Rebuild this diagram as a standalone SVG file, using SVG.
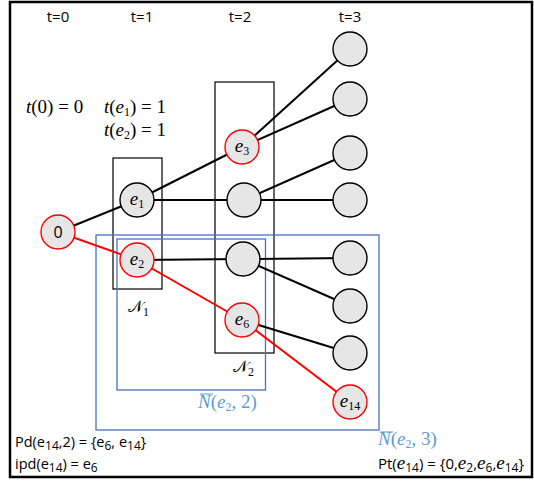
<svg xmlns="http://www.w3.org/2000/svg" width="534" height="483" viewBox="0 0 534 483">
<style>
.frame{fill:#fff;stroke:#000;stroke-width:2.5}
.n{fill:#e6e6e6;stroke:#000;stroke-width:1.4}
.r{fill:#e6e6e6;stroke:#f00;stroke-width:1.4}
.e{stroke:#000;stroke-width:2;fill:none}
.er{stroke:#f00;stroke-width:2;fill:none}
.box{fill:none;stroke:#000;stroke-width:1.2}
.bb{fill:none;stroke:#4472c4;stroke-width:1.3}
.s{font-family:"Open Sans","Liberation Sans",sans-serif;font-size:14.5px;fill:#000}
.t{font-size:15px}
.m{font-family:"Liberation Serif","DejaVu Serif",serif;font-size:19px;font-style:italic;fill:#000}
.up{font-style:normal}
.sub{font-size:12px}
.cal{font-family:"DejaVu Sans","Noto Sans",serif;font-style:normal;font-size:16px}
.lb{fill:#5b9bd5}
</style>
<rect class="frame" x="10" y="2" width="522" height="475"/>
<g id="labels-t">
<text class="s t" x="58" y="22" text-anchor="middle">t=0</text>
<text class="s t" x="142" y="22" text-anchor="middle">t=1</text>
<text class="s t" x="240" y="22" text-anchor="middle">t=2</text>
<text class="s t" x="350" y="22" text-anchor="middle">t=3</text>
</g>
<g id="time-eqs">
<text class="m" x="26" y="113">t<tspan class="up">(0) = 0</tspan></text>
<text class="m" x="104" y="113">t<tspan class="up">(</tspan>e<tspan class="sub up" dy="3">1</tspan><tspan class="up" dy="-3">) = 1</tspan></text>
<text class="m" x="104" y="136">t<tspan class="up">(</tspan>e<tspan class="sub up" dy="3">2</tspan><tspan class="up" dy="-3">) = 1</tspan></text>
</g>
<g id="sets">
<rect id="N1" class="box" x="113" y="158" width="49" height="131"/>
<rect id="N2" class="box" x="215" y="82" width="59" height="271"/>
<rect id="Nbar2" class="bb" x="117" y="239" width="148.5" height="151"/>
<rect id="Nbar3" class="bb" x="96" y="235" width="283" height="195"/>
<text class="m" x="128" y="312"><tspan class="cal">𝒩</tspan><tspan class="sub up" dy="4">1</tspan></text>
<text class="m" x="233" y="372"><tspan class="cal">𝒩</tspan><tspan class="sub up" dy="4">2</tspan></text>
<text class="m lb" x="198" y="408">N<tspan class="up">(</tspan>e<tspan class="sub up" dy="3">2</tspan><tspan class="up" dy="-3">, 2)</tspan></text>
<line x1="200" y1="394" x2="213" y2="394" stroke="#5b9bd5" stroke-width="1"/>
<text class="m lb" x="378" y="445">N<tspan class="up">(</tspan>e<tspan class="sub up" dy="3">2</tspan><tspan class="up" dy="-3">, 3)</tspan></text>
<line x1="380" y1="432" x2="393" y2="432" stroke="#5b9bd5" stroke-width="1"/>
</g>
<g id="connectors">
<line class="e" x1="58" y1="232" x2="137" y2="200"/>
<line class="er" x1="58" y1="232" x2="137" y2="260"/>
<line class="e" x1="137" y1="200" x2="242" y2="147"/>
<line class="e" x1="137" y1="200" x2="244" y2="200"/>
<line class="e" x1="137" y1="260" x2="243" y2="259"/>
<line class="er" x1="137" y1="260" x2="242" y2="320"/>
<line class="e" x1="242" y1="147" x2="350" y2="49"/>
<line class="e" x1="242" y1="147" x2="350" y2="99"/>
<line class="e" x1="244" y1="200" x2="350" y2="153"/>
<line class="e" x1="244" y1="200" x2="350" y2="200"/>
<line class="e" x1="243" y1="259" x2="350" y2="258"/>
<line class="e" x1="243" y1="259" x2="350" y2="306"/>
<line class="e" x1="242" y1="320" x2="350" y2="353"/>
<line class="er" x1="242" y1="320" x2="350" y2="402"/>
</g>
<g id="node-0"><circle class="r" cx="58" cy="232" r="17"/><text class="s" x="58" y="238" text-anchor="middle" style="font-size:16px">0</text></g>
<g id="node-e1"><circle class="n" cx="137" cy="200" r="17"/><text class="m" x="137" y="205" text-anchor="middle">e<tspan class="sub up" dy="3">1</tspan></text></g>
<g id="node-e2"><circle class="r" cx="137" cy="260" r="17"/><text class="m" x="137" y="265" text-anchor="middle">e<tspan class="sub up" dy="3">2</tspan></text></g>
<g id="node-e3"><circle class="r" cx="242" cy="147" r="17"/><text class="m" x="242" y="152" text-anchor="middle">e<tspan class="sub up" dy="3">3</tspan></text></g>
<g id="node-e4"><circle class="n" cx="244" cy="200" r="17"/></g>
<g id="node-e5"><circle class="n" cx="243" cy="259" r="17"/></g>
<g id="node-e6"><circle class="r" cx="242" cy="320" r="17"/><text class="m" x="242" y="325" text-anchor="middle">e<tspan class="sub up" dy="3">6</tspan></text></g>
<g id="node-e7"><circle class="n" cx="350" cy="49" r="17"/></g>
<g id="node-e8"><circle class="n" cx="350" cy="99" r="17"/></g>
<g id="node-e9"><circle class="n" cx="350" cy="153" r="17"/></g>
<g id="node-e10"><circle class="n" cx="350" cy="200" r="17"/></g>
<g id="node-e11"><circle class="n" cx="350" cy="258" r="17"/></g>
<g id="node-e12"><circle class="n" cx="350" cy="306" r="17"/></g>
<g id="node-e13"><circle class="n" cx="350" cy="353" r="17"/></g>
<g id="node-e14"><circle class="r" cx="350" cy="402" r="17"/><text class="m" x="350" y="407" text-anchor="middle">e<tspan class="sub up" dy="3">14</tspan></text></g>
<g id="notes">
<text class="s" x="15" y="447">Pd(e<tspan class="sub" dy="3">14</tspan><tspan dy="-3">,2) = {e</tspan><tspan class="sub" dy="3">6</tspan><tspan dy="-3">, e</tspan><tspan class="sub" dy="3">14</tspan><tspan dy="-3">}</tspan></text>
<text class="s" x="15" y="469">ipd(e<tspan class="sub" dy="3">14</tspan><tspan dy="-3">) = e</tspan><tspan class="sub" dy="3">6</tspan></text>
<text class="s" x="378" y="469" style="font-size:15px">Pt(<tspan class="m">e</tspan><tspan class="sub" dy="3">14</tspan><tspan dy="-3">) = {0,</tspan><tspan class="m">e</tspan><tspan class="sub" dy="3">2</tspan><tspan dy="-3">,</tspan><tspan class="m">e</tspan><tspan class="sub" dy="3">6</tspan><tspan dy="-3">,</tspan><tspan class="m">e</tspan><tspan class="sub" dy="3">14</tspan><tspan dy="-3">}</tspan></text>
</g>
</svg>
